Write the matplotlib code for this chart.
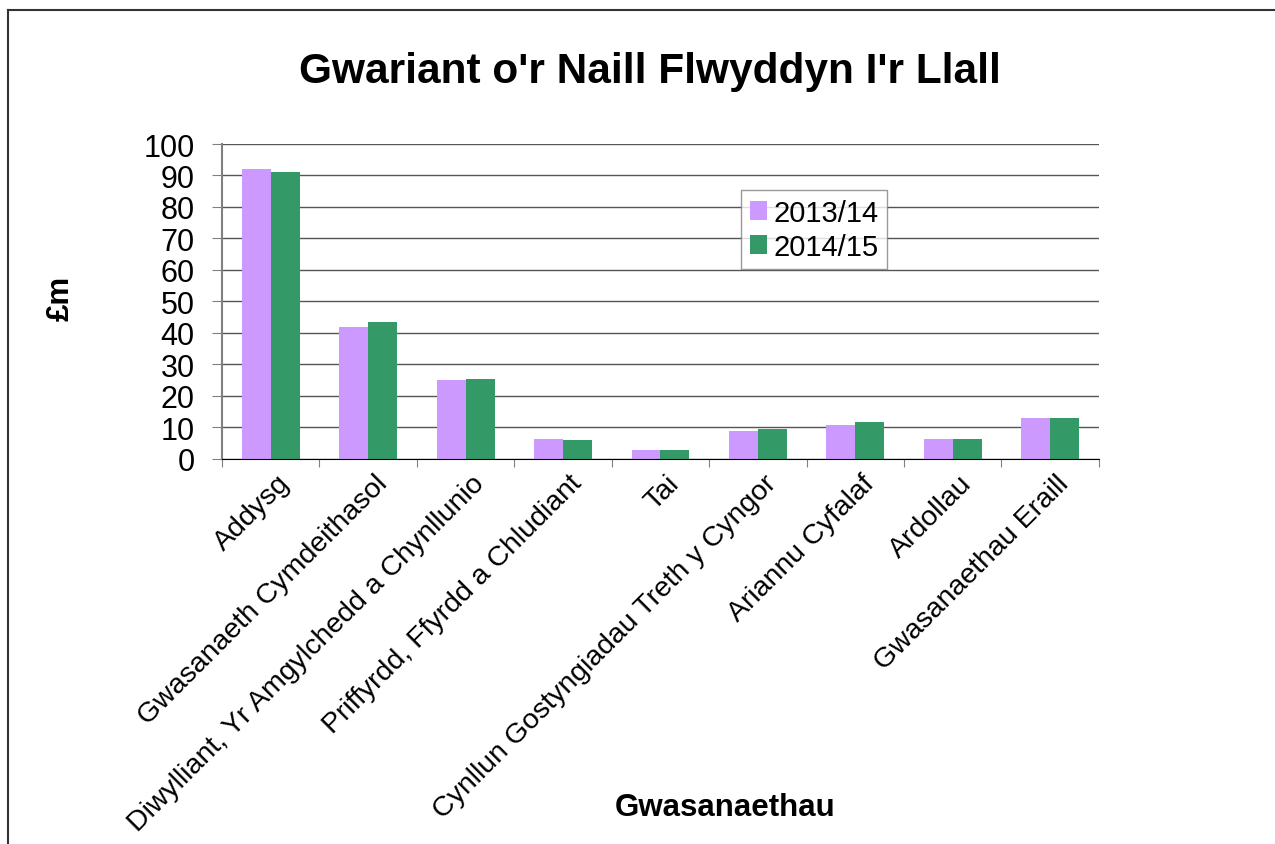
import numpy as np
import matplotlib.pyplot as plt
from matplotlib.lines import Line2D

plt.rcParams['font.family'] = ['Liberation Sans', 'DejaVu Sans']

categories = ['Addysg', 'Gwasanaeth Cymdeithasol',
              'Diwylliant, Yr Amgylchedd a Chynllunio',
              'Priffyrdd, Ffyrdd a Chludiant', 'Tai',
              'Cynllun Gostyngiadau Treth y Cyngor', 'Ariannu Cyfalaf',
              'Ardollau', 'Gwasanaethau Eraill']
spend_2013 = [92.0, 42.0, 25.1, 6.2, 2.6, 8.7, 10.7, 6.1, 12.9]
spend_2014 = [91.0, 43.4, 25.3, 5.9, 2.8, 9.5, 11.7, 6.1, 12.9]
series_labels = ['2013/14', '2014/15']
yticks = list(range(0, 101, 10))

fig = plt.figure(figsize=(12.75, 8.45), dpi=100)
ax = fig.add_axes([0.1741, 0.456, 0.6878, 0.3724])

x = np.arange(len(categories))
w = 0.297
ax.bar(x - w / 2, spend_2013, w, color='#CC99FF', label=series_labels[0], zorder=3)
ax.bar(x + w / 2, spend_2014, w, color='#339966', label=series_labels[1], zorder=3)

ax.set_xlim(-0.5, len(categories) - 0.5)
ax.set_ylim(0, 100)
ax.set_yticks(yticks)
ax.tick_params(axis='y', labelsize=22, length=7.2, color='#808080', pad=12.5)
ax.yaxis.grid(True, color='#555555', linewidth=1, zorder=0)

# x ticks sit between categories, labels at centres
ax.set_xticks(np.arange(-0.5, len(categories)), minor=False)
ax.set_xticklabels([])
ax.set_xticks(x + 0.06, minor=True)
ax.set_xticklabels(categories, minor=True, rotation=45, ha='right',
                   rotation_mode='anchor', fontsize=20.5)
ax.tick_params(axis='x', which='major', length=6, color='#808080')
ax.tick_params(axis='x', which='minor', length=0, pad=8)

for s in ['top', 'right']:
    ax.spines[s].set_visible(False)
ax.spines['left'].set_color('#808080')
ax.spines['left'].set_linewidth(1.5)
ax.spines['bottom'].set_color('black')
ax.spines['bottom'].set_zorder(4)

fig.text(0.0473, 0.647, '£m', fontsize=22.5, fontweight='bold',
         rotation=90, ha='center', va='center')
fig.text(0.5686, 0.0438, 'Gwasanaethau', fontsize=22.5, fontweight='bold',
         ha='center', va='center')
fig.text(0.51, 0.915, "Gwariant o'r Naill Flwyddyn I'r Llall", fontsize=30.5,
         fontweight='bold', ha='center', va='center')

leg = ax.legend(loc='upper left', bbox_to_anchor=(0.5812, 0.774),
                bbox_transform=fig.transFigure, fontsize=21,
                frameon=True, fancybox=False, handlelength=0.6, handleheight=0.6,
                handletextpad=0.2, borderpad=0.3, labelspacing=0.2,
                borderaxespad=0)
leg.get_frame().set_edgecolor('#808080')
leg.get_frame().set_linewidth(1)
leg.set_zorder(5)

# chart border (top and left only visible)
fig.add_artist(Line2D([0.006, 1.0], [0.9864, 0.9864], color='#333333', lw=1.5))
fig.add_artist(Line2D([0.006, 0.006], [0.0, 0.9864], color='#333333', lw=1.5))

fig.savefig('out.png', dpi=100)
